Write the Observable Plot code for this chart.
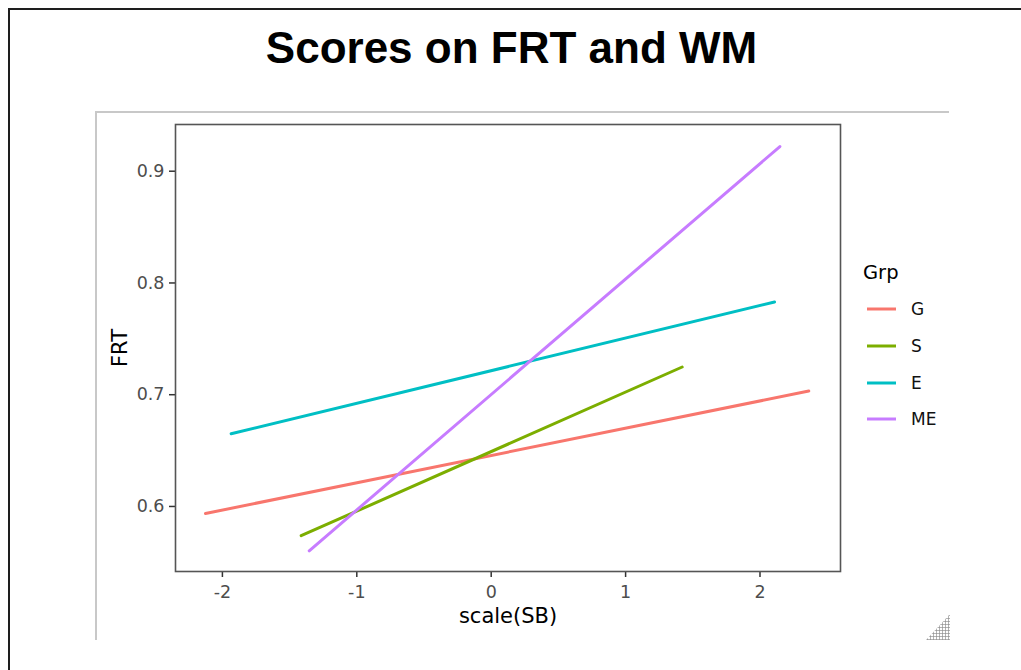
<!DOCTYPE html>
<html>
<head>
<meta charset="utf-8">
<script src="https://cdn.jsdelivr.net/npm/d3@7"></script>
<script src="https://cdn.jsdelivr.net/npm/@observablehq/plot@0.6"></script>
<style>
  html, body { margin: 0; padding: 0; background: #fff; overflow: hidden; width: 1021px; height: 670px; }
  #outer { position: absolute; left: 8px; top: 8px; width: 1100px; height: 1000px; border: 2px solid #1e1e1e; box-sizing: border-box; }
  #title { position: absolute; left: 0; top: 26px; width: 1023px; text-align: center; font: bold 44px "Liberation Sans", Arial, sans-serif; line-height: 1; color: #000; white-space: nowrap; }
  #inner { position: absolute; left: 95px; top: 111px; width: 854px; height: 529px; border-left: 2px solid #c8c8c8; border-top: 2px solid #c8c8c8; box-sizing: border-box; }
  #chart { position: absolute; left: 95px; top: 112px; }
  #legend { position: absolute; left: 0; top: 0; }
  #grip { position: absolute; left: 926px; top: 614px; width: 24px; height: 26px;
          background-image: radial-gradient(circle, #9a9a9a 0.9px, transparent 1.3px);
          background-size: 3px 3px; clip-path: polygon(100% 0, 100% 100%, 0 100%); }
</style>
</head>
<body>
<div id="outer"></div>
<div id="title">Scores on FRT and WM</div>
<div id="inner"></div>
<div id="chart"></div>
<svg id="legend" width="1021" height="670"></svg>
<div id="grip"></div>
<script>
// ---- data ----
const groups = ["G", "S", "E", "ME"];
const groupColors = ["#F8766D", "#7CAE00", "#00BFC4", "#C77CFF"];
const sbStart = [-2.126, -1.414, -1.935, -1.354];
const sbEnd = [2.363, 1.421, 2.108, 2.148];
const frtStart = [0.5937, 0.5738, 0.6651, 0.5603];
const frtEnd = [0.7033, 0.7248, 0.7830, 0.9221];
const xTicks = [-2, -1, 0, 1, 2];
const yTicks = [0.6, 0.7, 0.8, 0.9];
const xTitle = "scale(SB)";
const yTitle = "FRT";
const legendTitle = "Grp";

const table = [];
groups.forEach((g, i) => {
  table.push({grp: g, sb: sbStart[i], frt: frtStart[i]});
  table.push({grp: g, sb: sbEnd[i], frt: frtEnd[i]});
});

const chart = Plot.plot({
  width: 854,
  height: 528,
  marginLeft: 80,
  marginTop: 12,
  marginRight: 109,
  marginBottom: 69,
  style: {fontFamily: "DejaVu Sans", background: "transparent"},
  x: {domain: [-2.349, 2.599]},
  y: {domain: [0.5418, 0.9418]},
  color: {domain: groups, range: groupColors},
  marks: [
    Plot.axisX({ticks: xTicks, tickSize: 6, tickPadding: 8, fontSize: 17.5, stroke: "#333", fill: "#4d4d4d", strokeWidth: 1.5, tickFormat: d => String(d), label: null}),
    Plot.axisY({ticks: yTicks, tickSize: 6, tickPadding: 5, fontSize: 17.5, stroke: "#333", fill: "#4d4d4d", strokeWidth: 1.5, tickFormat: d3.format(".1f"), label: null}),
    Plot.line(table, {x: "sb", y: "frt", z: "grp", stroke: "grp", strokeWidth: 3}),
    Plot.frame({stroke: "#555", strokeWidth: 1.6}),
    Plot.text([xTitle], {frameAnchor: "bottom", textAnchor: "middle", text: d => d, dy: 51, fontSize: 21, fill: "#000", style: "letter-spacing:0.8px"}),
    Plot.text([yTitle], {frameAnchor: "left", textAnchor: "middle", text: d => d, dx: -55, rotate: -90, fontSize: 21, fill: "#000", style: "letter-spacing:0.6px"})
  ]
});
document.getElementById("chart").appendChild(chart);

// legend
const lg = d3.select("#legend");
lg.append("text").attr("x", 863).attr("y", 279).attr("font-family", "DejaVu Sans").attr("font-size", 19.5).attr("fill", "#000").text(legendTitle);
const keyY = [309, 346, 383, 419];
groups.forEach((g, i) => {
  lg.append("line").attr("x1", 867).attr("x2", 896).attr("y1", keyY[i]).attr("y2", keyY[i])
    .attr("stroke", groupColors[i]).attr("stroke-width", 3);
  lg.append("text").attr("x", 911).attr("y", keyY[i]).attr("dy", "0.36em")
    .attr("font-family", "DejaVu Sans").attr("font-size", 17).attr("fill", "#111").text(g);
});
</script>
</body>
</html>
